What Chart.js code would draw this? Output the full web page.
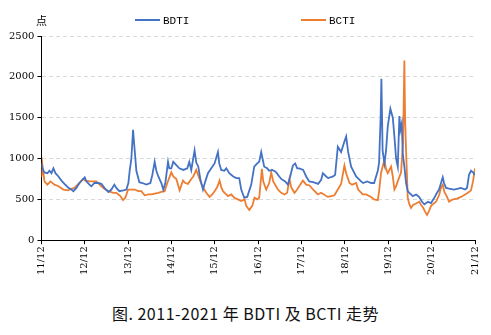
<!DOCTYPE html>
<html lang="zh">
<head>
<meta charset="UTF-8" />
<title>BDTI 及 BCTI 走势</title>
<script src="https://cdn.jsdelivr.net/npm/chart.js"></script>
<style>
    body { margin: 0; background: #fff; }
    #wrap { position: relative; width: 491px; height: 335px; background: #fff; overflow: hidden; }
    #chart { position: absolute; left: 0; top: 0; }
    .unit { position: absolute; left: 36px; top: 12px; font: 11px "Noto Sans CJK SC", sans-serif; color: #000; }
    .legend { position: absolute; top: 14px; font: 11px "Liberation Mono", monospace; color: #000; line-height: 14px; }
    .legend .sw { display: inline-block; width: 25px; height: 2px; vertical-align: middle; margin-right: 3px; position: relative; top: -1px; }
    .caption { position: absolute; left: 0; width: 491px; top: 301px; text-align: center; font: 16px "Noto Sans CJK SC", sans-serif; letter-spacing: 0.5px; color: #111; }
</style>
</head>
<body>
<div id="wrap">
    <canvas id="chart" width="491" height="290"></canvas>
    <div class="unit">点</div>
    <div class="legend" style="left:135px"><span class="sw" style="background:#4472C4"></span>BDTI</div>
    <div class="legend" style="left:301px"><span class="sw" style="background:#ED7D31"></span>BCTI</div>
    <div class="caption">图. 2011-2021 年 BDTI 及 BCTI 走势</div>
</div>
<script>
    // x 轴：自 2011 年 12 月起的年数
    const xTickLabels = ['11/12', '12/12', '13/12', '14/12', '15/12', '16/12', '17/12', '18/12', '19/12', '20/12', '21/12'];

    // BDTI 原油油轮运价指数
    const bdtiT = [0, 0.023, 0.069, 0.138, 0.184, 0.230, 0.276, 0.323, 0.392, 0.461, 0.530, 0.615, 0.691, 0.737, 0.806, 0.876, 0.945, 0.998,
        1.037, 1.106, 1.152, 1.221, 1.313, 1.382, 1.452, 1.544, 1.613, 1.682, 1.728, 1.797, 1.889, 1.959,
        2.005, 2.035, 2.074, 2.113, 2.143, 2.189, 2.258, 2.327, 2.419, 2.512, 2.558, 2.611, 2.650, 2.696, 2.765, 2.811, 2.857, 2.919, 2.949, 2.995,
        3.041, 3.111, 3.180, 3.272, 3.364, 3.410, 3.456, 3.532, 3.571, 3.618, 3.664, 3.726, 3.779, 3.841, 3.917, 3.993,
        4.071, 4.101, 4.147, 4.217, 4.263, 4.332, 4.424, 4.493, 4.562, 4.608, 4.677, 4.747, 4.839, 4.908, 4.977,
        5.023, 5.069, 5.115, 5.138, 5.207, 5.253, 5.323, 5.392, 5.415, 5.484, 5.530, 5.622, 5.684, 5.737, 5.800, 5.853, 5.899, 5.945,
        6.037, 6.106, 6.175, 6.267, 6.382, 6.452, 6.491, 6.567, 6.613, 6.728, 6.774, 6.836, 6.912, 6.982,
        7.028, 7.074, 7.143, 7.258, 7.373, 7.419, 7.512, 7.604, 7.673, 7.758, 7.788, 7.823, 7.841, 7.869, 7.910, 7.949, 7.988,
        8.048, 8.104, 8.141, 8.180, 8.219, 8.256, 8.279, 8.311, 8.334, 8.371, 8.410, 8.449, 8.486, 8.565, 8.641, 8.710, 8.779, 8.832, 8.917, 8.986,
        9.062, 9.124, 9.171, 9.256, 9.286, 9.332, 9.401, 9.516, 9.608, 9.677, 9.770, 9.816, 9.862, 9.908, 9.954, 10.0];
    const bdtiValues = [940, 880, 830, 820, 850, 820, 880, 820, 780, 730, 690, 645, 620, 600, 640, 700, 740, 770,
        720, 680, 660, 700, 700, 690, 640, 590, 620, 680, 640, 600, 610, 620,
        700, 850, 1000, 1350, 1150, 850, 710, 700, 680, 700, 800, 960, 850, 780, 700, 620, 700, 960, 880, 880,
        960, 920, 880, 860, 880, 960, 860, 1100, 950, 900, 750, 620, 720, 820, 880, 940,
        1080, 940, 860, 850, 880, 820, 780, 760, 760, 620, 520, 530, 680, 900, 940,
        960, 1080, 960, 900, 880, 850, 860, 840, 830, 780, 750, 720, 680, 780, 915, 940, 880, 880,
        860, 780, 720, 710, 690, 740, 820, 780, 760, 780, 800, 1145, 1080, 1200,
        1270, 1080, 900, 780, 720, 700, 720, 700, 700, 850, 950, 1500, 1975, 1100, 940, 1100, 1395,
        1610, 1500, 1270, 1000, 900, 1520, 1350, 1430, 1060, 900, 700, 600, 580, 540, 560, 530, 470, 440, 470, 455,
        520, 580, 620, 770, 700, 640, 630, 620, 630, 640, 620, 640, 800, 850, 830, 800];

    // BCTI 成品油油轮运价指数
    const bctiT = [0, 0.023, 0.069, 0.138, 0.207, 0.300, 0.392, 0.507, 0.615, 0.691, 0.760, 0.876, 0.961,
        1.014, 1.106, 1.267, 1.382, 1.475, 1.544, 1.659, 1.728, 1.820, 1.882, 1.935, 1.998,
        2.074, 2.150, 2.235, 2.304, 2.380, 2.465, 2.535, 2.611, 2.696, 2.765, 2.841, 2.903, 2.995,
        3.041, 3.111, 3.187, 3.265, 3.318, 3.380, 3.456, 3.502, 3.571, 3.641, 3.687, 3.756, 3.802, 3.878, 3.940, 3.993,
        4.055, 4.108, 4.147, 4.187, 4.263, 4.302, 4.378, 4.447, 4.532, 4.608, 4.684, 4.724, 4.793, 4.862, 4.915, 4.977,
        5.023, 5.085, 5.115, 5.184, 5.253, 5.300, 5.346, 5.454, 5.530, 5.606, 5.668, 5.721, 5.760, 5.836, 5.899, 5.968,
        6.030, 6.106, 6.182, 6.267, 6.376, 6.452, 6.606, 6.682, 6.758, 6.836, 6.912, 6.988,
        7.028, 7.104, 7.166, 7.258, 7.304, 7.412, 7.488, 7.604, 7.673, 7.758, 7.788, 7.834, 7.910, 7.949, 7.988,
        8.065, 8.104, 8.141, 8.180, 8.219, 8.295, 8.341, 8.371, 8.387, 8.410, 8.449, 8.479, 8.525, 8.571, 8.641, 8.717, 8.756, 8.802, 8.848, 8.894, 8.940, 8.986,
        9.101, 9.171, 9.217, 9.256, 9.293, 9.355, 9.401, 9.493, 9.585, 9.677, 9.770, 9.839, 9.908, 9.954, 10.0];
    const bctiValues = [770, 920, 720, 680, 720, 680, 660, 620, 610, 630, 640, 700, 750,
        730, 720, 720, 660, 620, 600, 580, 580, 540, 490, 520, 620,
        620, 620, 600, 600, 550, 560, 560, 570, 580, 590, 600, 700, 830,
        780, 750, 610, 730, 700, 690, 750, 780, 860, 760, 690, 620, 580, 530, 560, 600,
        650, 730, 650, 600, 560, 540, 560, 520, 500, 480, 500, 420, 370, 420, 520, 500,
        520, 875, 720, 620, 700, 830, 720, 620, 580, 560, 580, 750, 650, 580, 620, 680,
        730, 680, 670, 620, 560, 580, 530, 540, 550, 620, 690, 915,
        820, 700, 680, 700, 620, 560, 560, 530, 500, 490, 600, 830, 980, 870, 820,
        900, 780, 620, 660, 720, 830, 1200, 2200, 1500, 1100, 520, 450, 395, 430, 450, 470, 430, 400, 350, 310, 360, 420,
        470, 550, 645, 680, 590, 530, 470, 500, 510, 530, 560, 580, 610, 720, 880];

    const toPoints = (ts, vs) => ts.map((t, i) => ({ x: t, y: vs[i] }));

    // 画布里 Liberation Serif 不生效，改用 DejaVu Serif
    const tickFont = { family: 'DejaVu Serif', size: 10 };

    new Chart(document.getElementById('chart'), {
        type: 'line',
        data: {
            datasets: [
                { label: 'BDTI', data: toPoints(bdtiT, bdtiValues), borderColor: '#4472C4', backgroundColor: '#4472C4', borderWidth: 1.8, pointRadius: 0, tension: 0 },
                { label: 'BCTI', data: toPoints(bctiT, bctiValues), borderColor: '#ED7D31', backgroundColor: '#ED7D31', borderWidth: 1.8, pointRadius: 0, tension: 0 }
            ]
        },
        options: {
            responsive: false,
            animation: false,
            layout: { padding: { left: 6, right: 16, top: 36, bottom: 13 } },
            plugins: { legend: { display: false }, tooltip: { enabled: false } },
            scales: {
                x: {
                    type: 'linear', min: 0, max: 10,
                    border: { color: '#000', width: 1 },
                    grid: { drawOnChartArea: false, drawTicks: true, tickLength: 4, tickColor: '#000' },
                    ticks: {
                        stepSize: 1, autoSkip: false, maxRotation: 90, minRotation: 90, padding: 2,
                        color: '#000', font: tickFont,
                        callback: v => xTickLabels[v]
                    }
                },
                y: {
                    min: 0, max: 2500,
                    border: { color: '#000', width: 1, dash: [4, 3] },
                    grid: {
                        color: ctx => ctx.tick && ctx.tick.value === 0 ? 'rgba(0,0,0,0)' : '#d9d9d9',
                        tickColor: '#000', tickLength: 4
                    },
                    ticks: { stepSize: 500, padding: 3, color: '#000', font: tickFont, callback: v => String(v) }
                }
            }
        }
    });
</script>
</body>
</html>
